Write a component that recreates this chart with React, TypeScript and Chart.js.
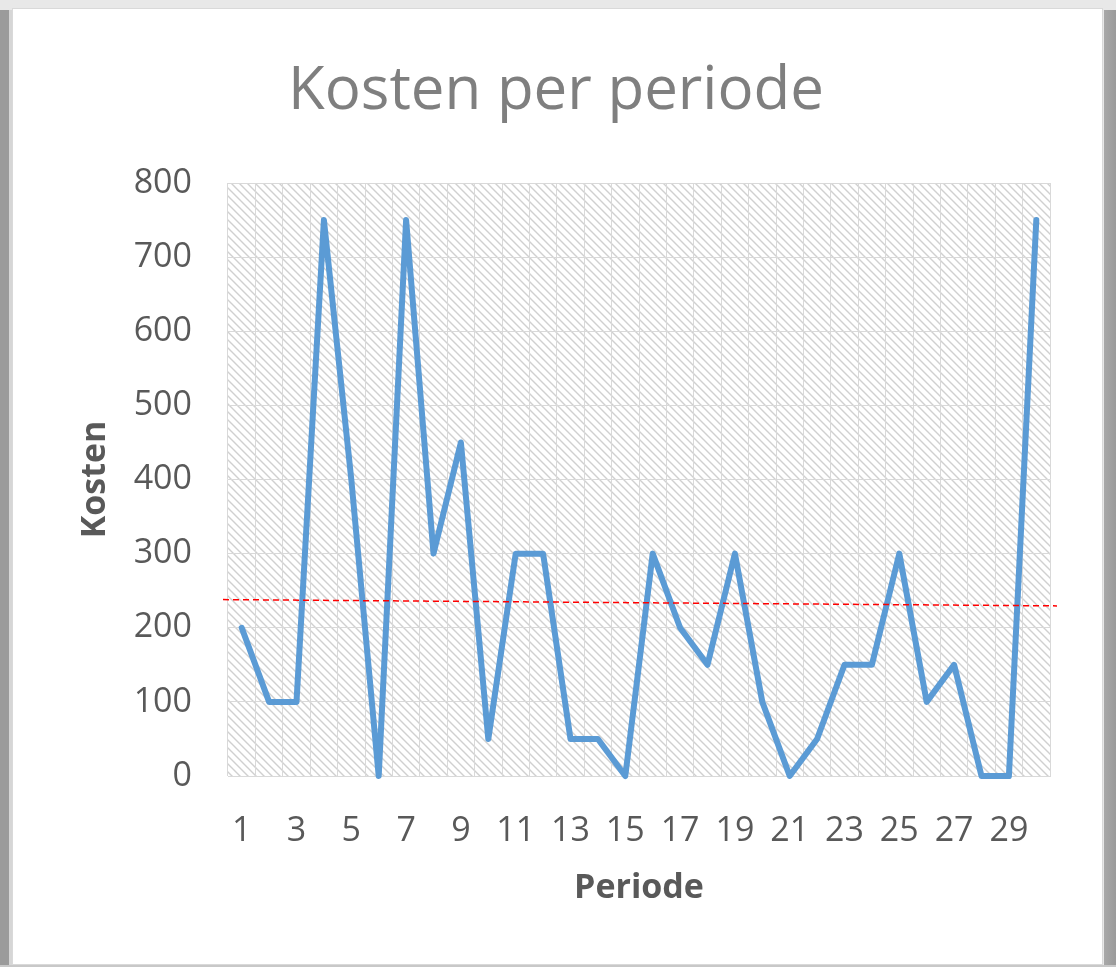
import React, { useEffect, useRef } from 'react';
import { Chart, registerables } from 'chart.js';

Chart.register(...registerables);

// ---- data ----
const periods = ['1', '2', '3', '4', '5', '6', '7', '8', '9', '10', '11', '12', '13', '14', '15',
  '16', '17', '18', '19', '20', '21', '22', '23', '24', '25', '26', '27', '28', '29', '30'];
const costs = [200, 100, 100, 750, 400, 0, 750, 300, 450, 50, 300, 300, 50, 50, 0,
  300, 200, 150, 300, 100, 0, 50, 150, 150, 300, 100, 150, 0, 0, 750];
const yTickValues = [0, 100, 200, 300, 400, 500, 600, 700, 800];
const referenceStart = 238;
const referenceEnd = 229.5;
const chartTitle = 'Kosten per periode';
const xTitle = 'Periode';
const yTitle = 'Kosten';

const FONT = "'Open Sans', 'Liberation Sans', sans-serif";

function makePattern(): CanvasPattern | string {
  const tile = document.createElement('canvas');
  tile.width = 8;
  tile.height = 8;
  const c = tile.getContext('2d');
  if (!c) return '#eeeeee';
  c.fillStyle = '#ffffff';
  c.fillRect(0, 0, 8, 8);
  c.strokeStyle = '#d0d0d0';
  c.lineWidth = 1.4;
  c.beginPath();
  c.moveTo(-2, -2);
  c.lineTo(10, 10);
  c.moveTo(-2, 6);
  c.lineTo(2, 10);
  c.moveTo(6, -2);
  c.lineTo(10, 2);
  c.stroke();
  const p = c.createPattern(tile, 'repeat');
  return p || '#eeeeee';
}

const plotBackground = {
  id: 'plotBackground',
  beforeDraw(chart: any) {
    const { ctx, chartArea } = chart;
    if (!chartArea) return;
    ctx.save();
    ctx.fillStyle = makePattern();
    ctx.fillRect(chartArea.left, chartArea.top, chartArea.right - chartArea.left, chartArea.bottom - chartArea.top);
    ctx.restore();
  },
};

const referenceLine = {
  id: 'referenceLine',
  afterDatasetsDraw(chart: any) {
    const { ctx, chartArea, scales } = chart;
    const y = scales.y;
    ctx.save();
    ctx.strokeStyle = '#ff0000';
    ctx.lineWidth = 1.5;
    ctx.setLineDash([6, 4]);
    ctx.beginPath();
    ctx.moveTo(chartArea.left - 5, y.getPixelForValue(referenceStart));
    ctx.lineTo(chartArea.right + 7, y.getPixelForValue(referenceEnd));
    ctx.stroke();
    ctx.restore();
  },
};

export default function App() {
  const canvasRef = useRef<HTMLCanvasElement | null>(null);

  useEffect(() => {
    if (!canvasRef.current) return;
    const chart = new Chart(canvasRef.current, {
      type: 'line',
      data: {
        labels: periods,
        datasets: [
          {
            label: yTitle,
            data: costs,
            borderColor: '#5b9bd5',
            backgroundColor: '#5b9bd5',
            borderWidth: 6,
            pointRadius: 0,
            pointHoverRadius: 0,
            tension: 0,
            borderJoinStyle: 'round',
            borderCapStyle: 'round',
            clip: false,
          } as any,
        ],
      },
      options: {
        responsive: false,
        animation: false,
        devicePixelRatio: 1,
        layout: { padding: { left: 62, right: 66, top: 0, bottom: 0 } },
        plugins: {
          legend: { display: false },
          tooltip: { enabled: false },
          title: {
            display: true,
            text: chartTitle,
            color: '#7f7f7f',
            font: { family: FONT, size: 60, weight: 'normal' },
            padding: { top: 56, bottom: 55 },
          },
        },
        scales: {
          x: {
            type: 'category',
            offset: true,
            grid: { display: true, color: '#d9d9d9', lineWidth: 1, drawTicks: false, offset: true },
            border: { display: true, color: '#d9d9d9', width: 1 },
            ticks: {
              autoSkip: false,
              maxRotation: 0,
              minRotation: 0,
              padding: 35,
              color: '#595959',
              font: { family: FONT, size: 34 },
              callback: (_v: any, idx: number) => (idx % 2 === 0 ? periods[idx] : ''),
            },
            title: {
              display: true,
              text: xTitle,
              color: '#595959',
              font: { family: FONT, size: 34, weight: 'bold' },
              padding: { top: 0, bottom: 58 },
            },
            afterFit: (scale: any) => {
              scale.height = 191;
            },
          },
          y: {
            type: 'linear',
            min: 0,
            max: 800,
            afterBuildTicks: (scale: any) => {
              scale.ticks = yTickValues.map((v) => ({ value: v }));
            },
            grid: { color: '#d9d9d9', lineWidth: 1, drawTicks: false },
            border: { display: false },
            ticks: {
              padding: 36,
              color: '#595959',
              font: { family: FONT, size: 34 },
            },
            title: {
              display: true,
              text: yTitle,
              color: '#595959',
              font: { family: FONT, size: 34, weight: 'bold' },
              padding: { top: 13, bottom: 0 },
            },
            afterFit: (scale: any) => {
              scale.width = 166;
            },
          },
        },
      },
      plugins: [plotBackground, referenceLine],
    });
    return () => chart.destroy();
  }, []);

  return (
    <div style={{ position: 'fixed', left: 0, top: 0, width: 1116, height: 967, background: '#e8e8e8', overflow: 'hidden' }}>
      <div style={{ position: 'absolute', left: 0, top: 10, width: 9, height: 957, background: '#9b9b9b' }} />
      <div style={{ position: 'absolute', left: 9, top: 10, width: 3, height: 957, background: '#d6d6d6' }} />
      <div style={{ position: 'absolute', left: 1104, top: 10, width: 12, height: 957, background: 'linear-gradient(to right, #a8a8a8, #9a9a9a)' }} />
      <div style={{ position: 'absolute', left: 0, top: 965, width: 1116, height: 2, background: '#c8c8c8' }} />
      <div style={{ position: 'absolute', left: 12, top: 8, width: 1091, height: 957, background: '#ffffff', boxSizing: 'border-box', border: '1px solid #d9d9d9' }} />
      <canvas ref={canvasRef} width={1116} height={967} style={{ position: 'absolute', left: 0, top: 0, width: 1116, height: 967 }} />
    </div>
  );
}
